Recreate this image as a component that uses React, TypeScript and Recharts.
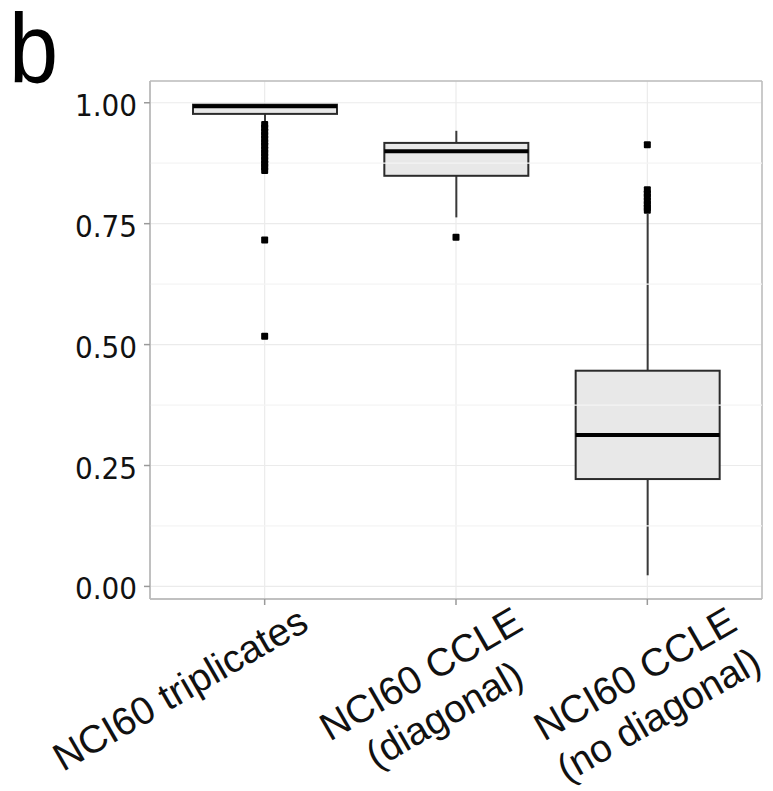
import React from "react";
import {
  ComposedChart,
  Bar,
  Scatter,
  XAxis,
  YAxis,
  CartesianGrid,
  ReferenceLine,
} from "recharts";

// box plot summaries
const groups = [
  "NCI60 triplicates",
  "NCI60 CCLE\n(diagonal)",
  "NCI60 CCLE\n(no diagonal)",
];
const lowerWhisker = [0.96, 0.763, 0.023];
const lowerQuartile = [0.977, 0.849, 0.222];
const medians = [0.993, 0.9, 0.313];
const upperQuartile = [0.996, 0.917, 0.446];
const upperWhisker = [0.996, 0.942, 0.77];

const outliersTriplicates = [
  0.955, 0.948, 0.94, 0.933, 0.925, 0.918, 0.911, 0.903, 0.896, 0.889, 0.881,
  0.874, 0.867, 0.86, 0.716, 0.517,
];
const outliersDiagonal = [0.722];
const outliersNoDiagonal = [0.913, 0.82, 0.812, 0.805, 0.797, 0.79, 0.783, 0.778];

const yTicks = [0, 0.25, 0.5, 0.75, 1];
const yMinorTicks = [0.125, 0.375, 0.625, 0.875];
const yDomain: [number, number] = [-0.026, 1.045];

const boxData = groups.map((name, i) => ({
  name,
  box: [lowerQuartile[i], upperQuartile[i]],
  lo: lowerWhisker[i],
  q1: lowerQuartile[i],
  med: medians[i],
  q3: upperQuartile[i],
  hi: upperWhisker[i],
}));

const outlierData = [
  ...outliersTriplicates.map((v) => ({ name: groups[0], value: v })),
  ...outliersDiagonal.map((v) => ({ name: groups[1], value: v })),
  ...outliersNoDiagonal.map((v) => ({ name: groups[2], value: v })),
];

const LABEL_FONT = "Liberation Sans, Arial, sans-serif";
const LABEL_SIZE = 39;
const BORDER = "#bdbdbd";
const TICK = "#9a9a9a";

function measure(text: string) {
  const c = document.createElement("canvas").getContext("2d");
  if (!c) return text.length * LABEL_SIZE * 0.5;
  c.font = `${LABEL_SIZE}px "Liberation Sans"`;
  return c.measureText(text).width;
}

function BoxShape(props: any) {
  const { x, y, width, height, payload } = props;
  const top = Math.min(y, y + height);
  const h = Math.abs(height);
  // pixels per data unit, taken from the bar the library laid out
  const k = h / (payload.q3 - payload.q1);
  const yOf = (v: number) => top + (payload.q3 - v) * k;
  const cx = x + width / 2;
  return (
    <g>
      <line x1={cx} x2={cx} y1={yOf(payload.hi)} y2={top} stroke="#3a3a3a" strokeWidth={2} />
      <line x1={cx} x2={cx} y1={top + h} y2={yOf(payload.lo)} stroke="#3a3a3a" strokeWidth={2} />
      <rect x={x} y={top} width={width} height={h} fill="#e8e8e8" stroke="#2b2b2b" strokeWidth={2} />
      <line x1={x} x2={x + width} y1={yOf(payload.med)} y2={yOf(payload.med)} stroke="#000" strokeWidth={4} />
    </g>
  );
}

function OutlierShape(props: any) {
  const { cx, cy } = props;
  return <rect x={cx - 3.5} y={cy - 3.5} width={7} height={7} rx={1} fill="#000" />;
}

function XTick(props: any) {
  const { x, y, payload, index } = props;
  const lines = String(payload.value).split("\n");
  const w1 = measure(lines[0]);
  const dx = 46 + 23 * index;
  return (
    <g transform={`translate(${x + dx},${y + 22}) rotate(-30)`}>
      <text x={0} y={0} textAnchor="end" fontFamily={LABEL_FONT} fontSize={LABEL_SIZE} fill="#111">
        {lines[0]}
      </text>
      {lines[1] && (
        <text x={-w1 / 2} y={47} textAnchor="middle" fontFamily={LABEL_FONT} fontSize={LABEL_SIZE} fill="#111">
          {lines[1]}
        </text>
      )}
    </g>
  );
}

function YTick(props: any) {
  const { x, y, payload } = props;
  return (
    <text
      transform={`translate(${x},${y}) scale(0.9,1)`}
      dy={13}
      textAnchor="end"
      fontFamily="DejaVu Sans, sans-serif"
      fontSize={31}
      fill="#111"
    >
      {Number(payload.value).toFixed(2)}
    </text>
  );
}

// panel border: the edges of the plotting area
const borderRows = ({ offset }: any) =>
  offset ? [offset.top, offset.top + offset.height] : [];
const borderCols = ({ offset }: any) =>
  offset ? [offset.left, offset.left + offset.width] : [];

export default function App() {
  return (
    <div style={{ position: "absolute", left: 0, top: 0, width: 773, height: 791, background: "#fff" }}>
      <svg width={773} height={791} style={{ position: "absolute", left: 0, top: 0 }}>
        <text
          transform="translate(9,82) scale(0.92,1.03)"
          fontFamily={LABEL_FONT}
          fontSize={96}
          fill="#000"
        >
          b
        </text>
      </svg>
      <ComposedChart
        width={773}
        height={791}
        data={boxData}
        margin={{ top: 81, right: 11, bottom: 12, left: 0 }}
        style={{ position: "absolute", left: 0, top: 0 }}
      >
        {yMinorTicks.map((v) => (
          <ReferenceLine key={v} y={v} stroke="#f4f4f4" strokeWidth={1.2} />
        ))}
        <CartesianGrid stroke="#ebebeb" strokeWidth={1.2} />
        <CartesianGrid
          stroke={BORDER}
          strokeWidth={1.5}
          horizontalCoordinatesGenerator={borderRows}
          verticalCoordinatesGenerator={borderCols}
        />
        <XAxis
          dataKey="name"
          type="category"
          allowDuplicatedCategory={false}
          padding={{ left: 19, right: 19 }}
          height={180}
          axisLine={{ stroke: BORDER, strokeWidth: 1.5 }}
          tickLine={{ stroke: TICK, strokeWidth: 1.5 }}
          tickSize={6}
          tick={<XTick />}
          interval={0}
        />
        <YAxis
          type="number"
          domain={yDomain}
          ticks={yTicks}
          allowDataOverflow
          width={150}
          axisLine={{ stroke: BORDER, strokeWidth: 1.5 }}
          tickLine={{ stroke: TICK, strokeWidth: 1.5 }}
          tickSize={6}
          tickMargin={7}
          tick={<YTick />}
        />
        <Bar dataKey="box" barSize={144} shape={<BoxShape />} isAnimationActive={false} />
        <Scatter data={outlierData} dataKey="value" shape={<OutlierShape />} isAnimationActive={false} />
      </ComposedChart>
    </div>
  );
}
